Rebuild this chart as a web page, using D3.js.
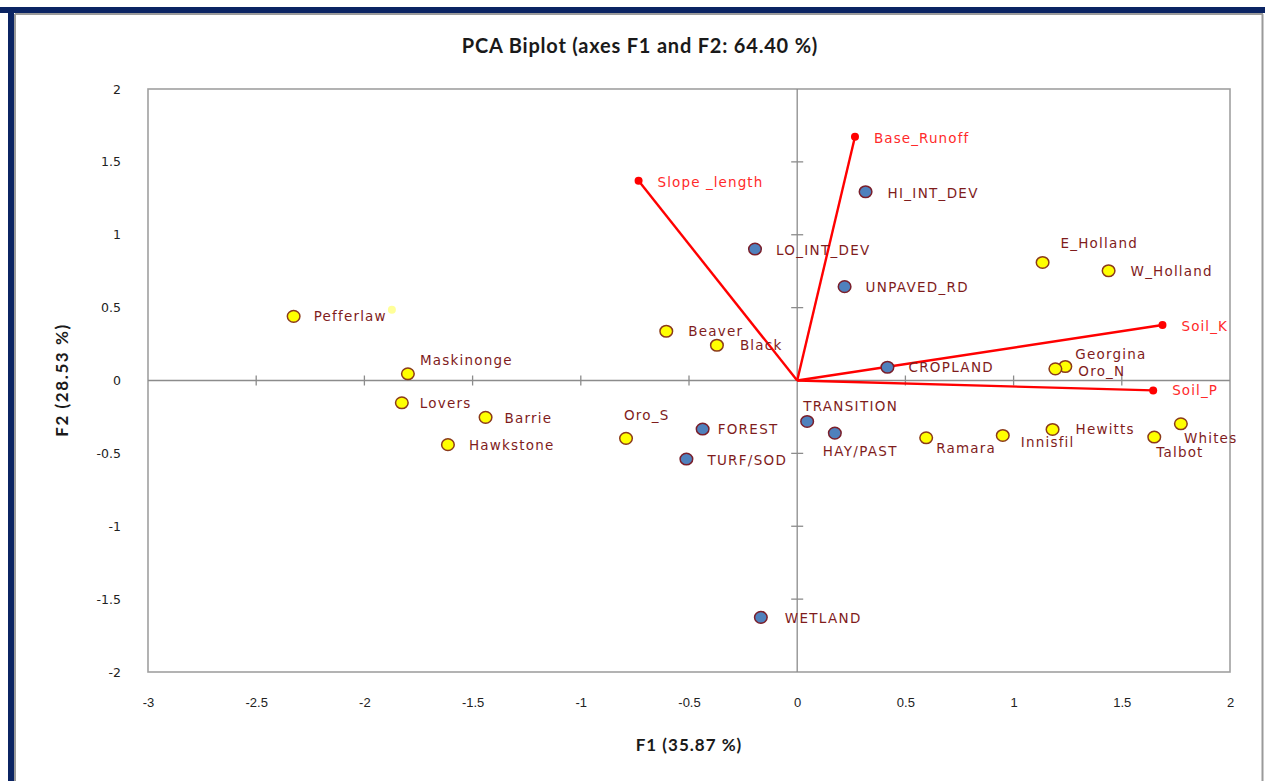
<!DOCTYPE html>
<html>
<head>
<meta charset="utf-8">
<script src="https://cdn.jsdelivr.net/npm/d3@7/dist/d3.min.js"></script>
<style>
  html, body { margin: 0; padding: 0; background: #ffffff; }
  svg { display: block; }
</style>
</head>
<body>
<svg id="chart" width="1265" height="781"></svg>
<script>
// ---- Data ----
const titleText = "PCA Biplot (axes F1 and F2: 64.40 %)";
const xTitle = "F1 (35.87 %)";
const yTitle = "F2 (28.53 %)";
const xTicks = [-3, -2.5, -2, -1.5, -1, -0.5, 0, 0.5, 1, 1.5, 2];
const yTicks = [-2, -1.5, -1, -0.5, 0, 0.5, 1, 1.5, 2];

// Observations (sites) - yellow
const siteNames = ["Pefferlaw", "Maskinonge", "Lovers", "Barrie", "Hawkstone", "Oro_S", "Beaver", "Black",
  "E_Holland", "W_Holland", "Georgina", "Oro_N", "Ramara", "Innisfil", "Hewitts", "Talbot", "Whites"];
const siteF1 = [-2.327, -1.799, -1.827, -1.440, -1.614, -0.791, -0.605, -0.371,
  1.134, 1.439, 1.239, 1.193, 0.596, 0.950, 1.180, 1.650, 1.773];
const siteF2 = [0.440, 0.046, -0.153, -0.253, -0.440, -0.397, 0.338, 0.242,
  0.810, 0.753, 0.096, 0.080, -0.393, -0.377, -0.336, -0.388, -0.297];
// label offsets per site (dx, dy in px) are layout, kept separate
const siteLabelPos = {
  "Pefferlaw": [20, 5], "Maskinonge": [12, -9], "Lovers": [18, 5], "Barrie": [19, 6],
  "Hawkstone": [21, 5], "Oro_S": [-2, -18], "Beaver": [22, 5], "Black": [23, 5],
  "E_Holland": [18, -14], "W_Holland": [22, 5], "Georgina": [10, -8], "Oro_N": [23, 7],
  "Ramara": [10, 15], "Innisfil": [18, 12], "Hewitts": [23, 5], "Talbot": [2, 20], "Whites": [3, 19]
};
// faint highlight point near Pefferlaw
const faintF1 = [-1.873];
const faintF2 = [0.486];

// Land-use variables - blue
const landNames = ["HI_INT_DEV", "LO_INT_DEV", "UNPAVED_RD", "CROPLAND", "TRANSITION", "HAY/PAST", "FOREST", "TURF/SOD", "WETLAND"];
const landF1 = [0.316, -0.195, 0.219, 0.417, 0.046, 0.174, -0.437, -0.512, -0.168];
const landF2 = [1.295, 0.902, 0.644, 0.091, -0.281, -0.361, -0.333, -0.539, -1.625];
const landLabelPos = {
  "HI_INT_DEV": [22, 6], "LO_INT_DEV": [21, 6], "UNPAVED_RD": [21, 5], "CROPLAND": [21, 5],
  "TRANSITION": [-4, -10], "HAY/PAST": [-12, 23], "FOREST": [15, 5], "TURF/SOD": [21, 6], "WETLAND": [24, 6]
};

// Vectors - red
const vecNames = ["Base_Runoff", "Slope _length", "Soil_K", "Soil_P"];
const vecF1 = [0.267, -0.733, 1.688, 1.645];
const vecF2 = [1.673, 1.370, 0.381, -0.068];
const vecLabelPos = {
  "Base_Runoff": [19, 6], "Slope _length": [19, 6], "Soil_K": [19, 6], "Soil_P": [19, 5]
};

// ---- Layout ----
const svg = d3.select("#chart");
const plot = { left: 148, right: 1230, top: 89, bottom: 672 };
const x = d3.scaleLinear().domain([-3, 2]).range([plot.left, plot.right]);
const y = d3.scaleLinear().domain([-2, 2]).range([plot.bottom, plot.top]);

const labelFont = "'DejaVu Sans', Verdana, sans-serif";
const darkRed = "#7f1c1c";
const vecRed = "#ff2a2a";

// Outer frame
svg.append("rect").attr("x", 0).attr("y", 7).attr("width", 1265).attr("height", 6).attr("fill", "#0b2463");
svg.append("rect").attr("x", 8).attr("y", 7).attr("width", 6).attr("height", 781).attr("fill", "#0b2463");
svg.append("line").attr("x1", 15).attr("x2", 1263).attr("y1", 14).attr("y2", 14).attr("stroke", "#9a9a9a").attr("stroke-width", 2);
svg.append("line").attr("x1", 15).attr("x2", 15).attr("y1", 14).attr("y2", 781).attr("stroke", "#9a9a9a").attr("stroke-width", 2);
svg.append("line").attr("x1", 1262.5).attr("x2", 1262.5).attr("y1", 14).attr("y2", 781).attr("stroke", "#9a9a9a").attr("stroke-width", 2);

// Title
svg.append("text").attr("x", 640).attr("y", 53).attr("text-anchor", "middle")
  .attr("font-family", "Lato, 'Open Sans', sans-serif").attr("font-weight", "bold").attr("font-size", 20)
  .attr("letter-spacing", 0.8).attr("fill", "#1a1a1a").text(titleText);

// Plot frame
svg.append("rect").attr("x", plot.left).attr("y", plot.top)
  .attr("width", plot.right - plot.left).attr("height", plot.bottom - plot.top)
  .attr("fill", "none").attr("stroke", "#a0a0a0").attr("stroke-width", 1.6);

// Tick labels via axes (no lines); use plain hyphen-minus like the reference
const fmt = d => String(d);
const xAxis = d3.axisBottom(x).tickValues(xTicks).tickSize(0).tickFormat(fmt);
const gx = svg.append("g").attr("transform", `translate(0, ${plot.bottom + 23})`).call(xAxis);
gx.select(".domain").remove();
gx.selectAll("text").attr("font-family", "'Liberation Sans Narrow', 'Liberation Sans', sans-serif")
  .attr("font-size", 13).attr("fill", "#222").attr("dy", "0.71em");

const yAxis = d3.axisLeft(y).tickValues(yTicks).tickSize(0).tickFormat(fmt);
const gy = svg.append("g").attr("transform", `translate(${plot.left - 24}, 0)`).call(yAxis);
gy.select(".domain").remove();
gy.selectAll("text").attr("font-family", labelFont).attr("font-size", 12.5).attr("fill", "#222");

// Axis titles
svg.append("text").attr("x", 689).attr("y", 751).attr("text-anchor", "middle")
  .attr("font-family", "Lato, sans-serif").attr("font-weight", "bold").attr("font-size", 17)
  .attr("letter-spacing", 1).attr("fill", "#1a1a1a").text(xTitle);
svg.append("text").attr("transform", `translate(68, 380) rotate(-90)`).attr("text-anchor", "middle")
  .attr("font-family", "Lato, sans-serif").attr("font-weight", "bold").attr("font-size", 17)
  .attr("letter-spacing", 1.6).attr("fill", "#1a1a1a").text(yTitle);

// Zero axes inside plot with crossing ticks
const axisColor = "#8c8c8c";
svg.append("line").attr("x1", plot.left).attr("x2", plot.right).attr("y1", y(0)).attr("y2", y(0))
  .attr("stroke", axisColor).attr("stroke-width", 1.3);
svg.append("line").attr("x1", x(0)).attr("x2", x(0)).attr("y1", plot.top).attr("y2", plot.bottom)
  .attr("stroke", axisColor).attr("stroke-width", 1.3);
svg.selectAll("line.xt").data(xTicks.filter(d => d > -3 && d < 2 && d !== 0)).enter().append("line")
  .attr("class", "xt").attr("x1", d => x(d)).attr("x2", d => x(d))
  .attr("y1", y(0) - 5).attr("y2", y(0) + 5).attr("stroke", axisColor).attr("stroke-width", 1.3);
svg.selectAll("line.yt").data(yTicks.filter(d => d > -2 && d < 2 && d !== 0)).enter().append("line")
  .attr("class", "yt").attr("x1", x(0) - 6).attr("x2", x(0) + 6)
  .attr("y1", d => y(d)).attr("y2", d => y(d)).attr("stroke", axisColor).attr("stroke-width", 1.3);

// Vectors
const vecs = vecNames.map((n, i) => ({ name: n, f1: vecF1[i], f2: vecF2[i] }));
svg.selectAll("line.vec").data(vecs).enter().append("line").attr("class", "vec")
  .attr("x1", x(0)).attr("y1", y(0)).attr("x2", d => x(d.f1)).attr("y2", d => y(d.f2))
  .attr("stroke", "#ff0000").attr("stroke-width", 2.4);
svg.selectAll("circle.vec").data(vecs).enter().append("circle").attr("class", "vec")
  .attr("cx", d => x(d.f1)).attr("cy", d => y(d.f2)).attr("r", 4).attr("fill", "#ff0000");
svg.selectAll("text.vec").data(vecs).enter().append("text").attr("class", "vec")
  .attr("x", d => x(d.f1) + vecLabelPos[d.name][0]).attr("y", d => y(d.f2) + vecLabelPos[d.name][1])
  .attr("font-family", labelFont).attr("font-size", 13.5).attr("letter-spacing", 1.1)
  .attr("fill", vecRed).text(d => d.name);

// Land-use points
const lands = landNames.map((n, i) => ({ name: n, f1: landF1[i], f2: landF2[i] }));
svg.selectAll("ellipse.land").data(lands).enter().append("ellipse").attr("class", "land")
  .attr("cx", d => x(d.f1)).attr("cy", d => y(d.f2)).attr("rx", 6.3).attr("ry", 5.8)
  .attr("fill", "#4f81bd").attr("stroke", "#7a1f2b").attr("stroke-width", 1.5);
svg.selectAll("text.land").data(lands).enter().append("text").attr("class", "land")
  .attr("x", d => x(d.f1) + landLabelPos[d.name][0]).attr("y", d => y(d.f2) + landLabelPos[d.name][1])
  .attr("font-family", labelFont).attr("font-size", 13.5).attr("letter-spacing", 1.3)
  .attr("fill", darkRed).text(d => d.name);

// Sites
const sites = siteNames.map((n, i) => ({ name: n, f1: siteF1[i], f2: siteF2[i] }));
svg.selectAll("ellipse.site").data(sites).enter().append("ellipse").attr("class", "site")
  .attr("cx", d => x(d.f1)).attr("cy", d => y(d.f2)).attr("rx", 6.3).attr("ry", 5.8)
  .attr("fill", "#ffff00").attr("stroke", "#8b3a1a").attr("stroke-width", 1.5);
svg.selectAll("text.site").data(sites).enter().append("text").attr("class", "site")
  .attr("x", d => x(d.f1) + siteLabelPos[d.name][0]).attr("y", d => y(d.f2) + siteLabelPos[d.name][1])
  .attr("font-family", labelFont).attr("font-size", 13.5).attr("letter-spacing", 1.2)
  .attr("fill", darkRed).text(d => d.name);

// Faint point
svg.selectAll("circle.faint").data(faintF1.map((v, i) => ({ f1: v, f2: faintF2[i] }))).enter()
  .append("circle").attr("class", "faint").attr("cx", d => x(d.f1)).attr("cy", d => y(d.f2))
  .attr("r", 4).attr("fill", "#ffff80").attr("opacity", 0.8);
</script>
</body>
</html>
